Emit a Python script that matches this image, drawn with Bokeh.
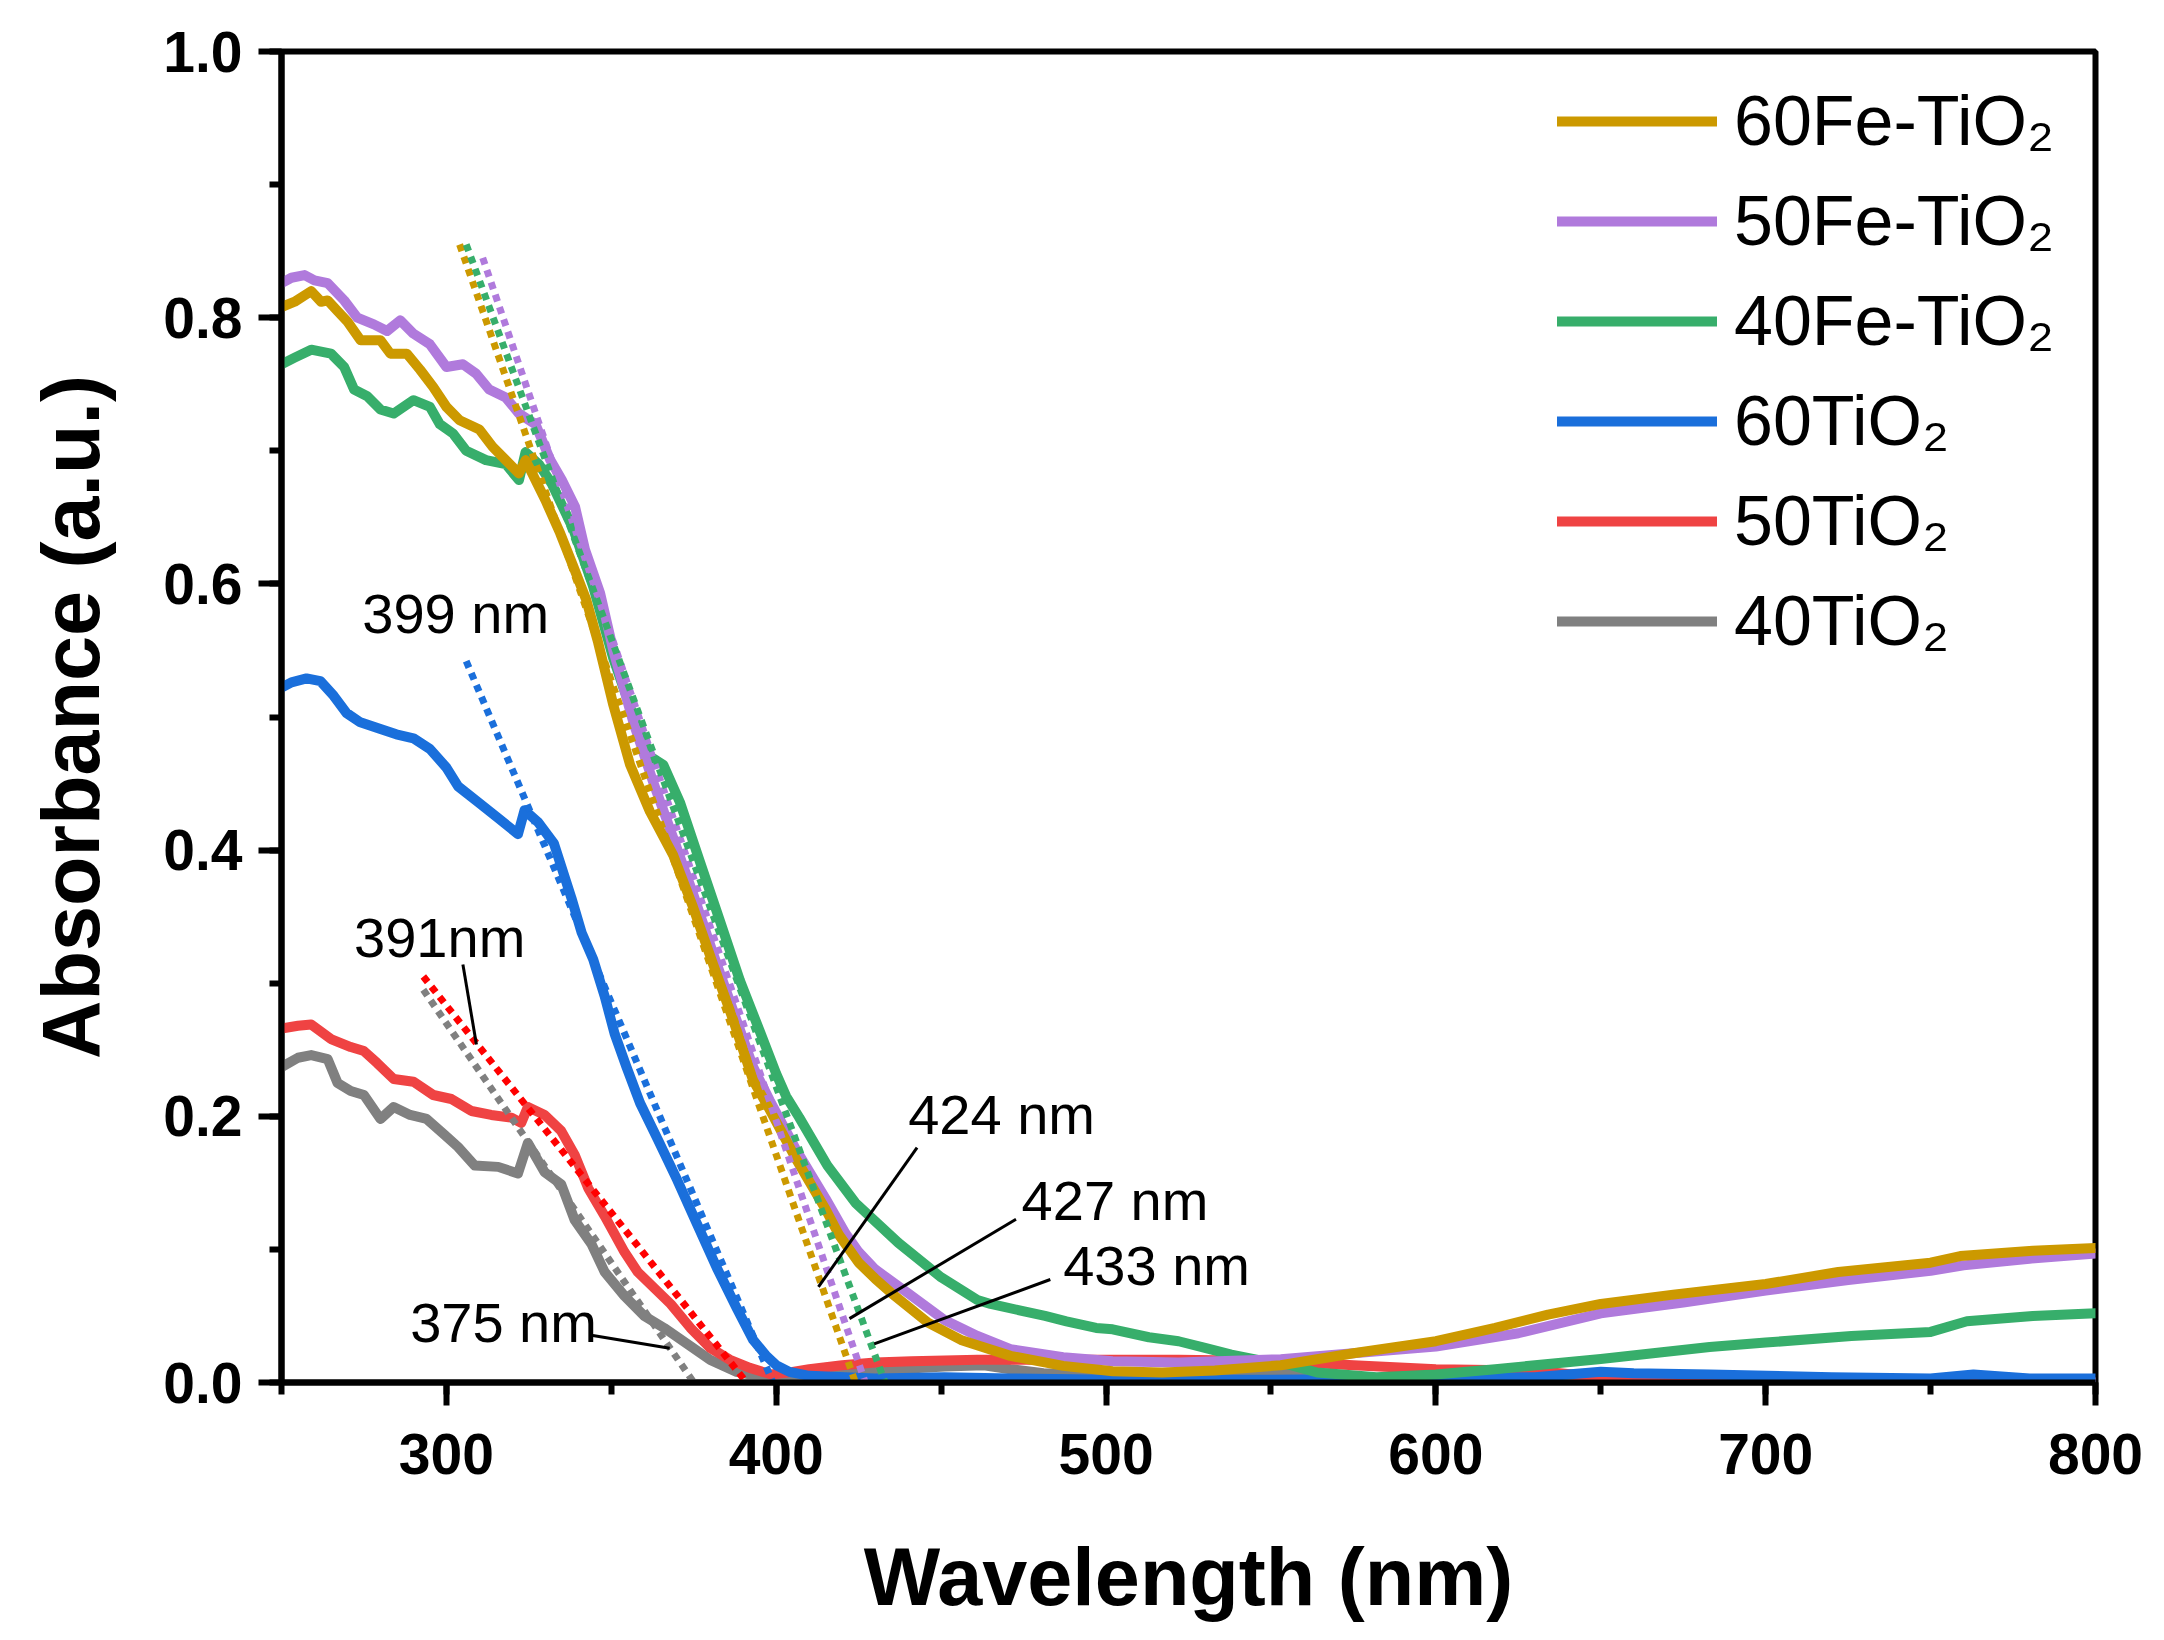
from bokeh.plotting import figure
from bokeh.models import FixedTicker, Legend, LegendItem, Label, Range1d, NumeralTickFormatter
from bokeh.embed import file_html
from bokeh.resources import INLINE

# ---------------- data ----------------
fe60_x = [250, 254, 259, 262, 264, 267, 270, 274, 280, 283, 288, 292, 296, 300, 304, 310, 314, 318, 322, 324, 327,
          330, 334.5, 338.5, 342.4, 346, 350.6, 355.7, 361.7, 368.8, 374.8, 380.9, 387, 393, 398, 406, 415, 419, 425,
          430, 435, 446, 456, 471, 487, 502, 517, 533, 553, 575, 600, 618, 634, 650, 672, 700, 722, 750, 759, 781, 800]
fe60_y = [0.808, 0.812, 0.820, 0.812, 0.813, 0.805, 0.797, 0.783, 0.783, 0.773, 0.773, 0.761, 0.748, 0.733, 0.723,
          0.716, 0.703, 0.693, 0.683, 0.693, 0.678, 0.663, 0.638, 0.613, 0.588, 0.556, 0.509, 0.464, 0.429, 0.396,
          0.357, 0.314, 0.272, 0.227, 0.205, 0.168, 0.130, 0.111, 0.090, 0.078, 0.067, 0.045, 0.032, 0.020, 0.0125,
          0.0085, 0.0075, 0.009, 0.013, 0.022, 0.031, 0.041, 0.051, 0.059, 0.066, 0.074, 0.083, 0.090, 0.095, 0.099,
          0.101]

fe50_x = [250, 253, 257, 260, 264, 269, 273, 278, 282, 286, 290, 295, 300, 305, 309, 313, 318, 322, 327, 331.5, 335,
          339, 342, 346.6, 350.6, 356.7, 362.7, 368.8, 374.8, 380.9, 387, 393, 398, 406, 415, 421, 425, 430, 440, 451,
          461, 471, 487, 502, 522, 553, 575, 600, 625, 650, 675, 700, 725, 750, 760, 780, 800]
fe50_y = [0.826, 0.830, 0.832, 0.828, 0.826, 0.813, 0.800, 0.795, 0.790, 0.798, 0.788, 0.780, 0.763, 0.765, 0.758,
          0.746, 0.740, 0.728, 0.720, 0.693, 0.678, 0.658, 0.626, 0.593, 0.550, 0.496, 0.451, 0.409, 0.367, 0.322,
          0.279, 0.237, 0.212, 0.175, 0.138, 0.112, 0.098, 0.085, 0.067, 0.047, 0.035, 0.025, 0.019, 0.016, 0.015,
          0.0175, 0.022, 0.027, 0.037, 0.052, 0.060, 0.069, 0.077, 0.084, 0.088, 0.093, 0.097]

fe40_x = [250, 254, 259, 265, 269, 272, 276, 280, 284, 290, 295, 298, 302, 306, 312, 318, 322, 324, 328, 332, 338.5,
          344.5, 350.6, 356.6, 362, 365.8, 370.8, 376.9, 382.9, 389, 395, 400, 403, 407, 415.5, 424, 437, 450, 461,
          465, 481.5, 488, 497, 502, 513, 522, 530, 538, 546, 553, 564, 582, 600, 618, 650, 683, 700, 726, 750, 761,
          781, 800]
fe40_y = [0.765, 0.770, 0.776, 0.773, 0.763, 0.746, 0.741, 0.731, 0.728, 0.738, 0.733, 0.720, 0.713, 0.700, 0.693,
          0.690, 0.678, 0.699, 0.690, 0.675, 0.641, 0.598, 0.544, 0.501, 0.470, 0.464, 0.436, 0.391, 0.347, 0.302,
          0.264, 0.232, 0.215, 0.199, 0.163, 0.135, 0.105, 0.079, 0.062, 0.059, 0.050, 0.046, 0.041, 0.040, 0.034,
          0.031, 0.026, 0.021, 0.017, 0.015, 0.0075, 0.004, 0.006, 0.010, 0.0177, 0.0266, 0.030, 0.035, 0.038,
          0.046, 0.050, 0.052]

ti60_x = [250, 253, 257.6, 261.8, 265.8, 269.7, 273.9, 280, 284.8, 290, 295, 300, 303.5, 309.6, 315.7, 321.7, 323.7,
          327.8, 332.6, 337.9, 341, 344.5, 348, 351, 354.6, 358.7, 364, 370, 376, 382, 388, 393, 397, 400, 404, 410,
          430, 451, 471, 502, 550, 600, 630, 650, 660, 683, 720, 750, 763, 780, 800]
ti60_y = [0.522, 0.526, 0.529, 0.527, 0.516, 0.503, 0.496, 0.491, 0.487, 0.484, 0.476, 0.462, 0.448, 0.436, 0.424,
          0.412, 0.430, 0.421, 0.405, 0.364, 0.338, 0.318, 0.290, 0.262, 0.237, 0.210, 0.183, 0.152, 0.119, 0.086,
          0.056, 0.032, 0.020, 0.013, 0.008, 0.005, 0.003, 0.004, 0.003, 0.002, 0.002, 0.003, 0.004, 0.008, 0.007,
          0.006, 0.004, 0.003, 0.006, 0.003, 0.003]

ti50_x = [250, 255, 259, 265, 271, 275, 279, 284, 290, 296, 301.5, 307.6, 313.6, 319.7, 322.7, 324.7, 329.8, 334.8,
          338.9, 343, 348, 354, 358, 363, 368, 374, 380, 386, 392, 398.5, 405, 410, 420, 430, 441, 461, 481, 502, 522,
          553, 575, 600, 629, 650, 672, 700, 800]
ti50_y = [0.266, 0.268, 0.269, 0.258, 0.252, 0.249, 0.240, 0.228, 0.226, 0.216, 0.213, 0.204, 0.201, 0.199, 0.195,
          0.207, 0.201, 0.189, 0.171, 0.146, 0.125, 0.098, 0.083, 0.071, 0.059, 0.041, 0.026, 0.017, 0.011, 0.006,
          0.008, 0.010, 0.013, 0.015, 0.016, 0.017, 0.017, 0.017, 0.017, 0.016, 0.013, 0.010, 0.009, 0.004, 0.001,
          0.0, 0.0]

ti40_x = [250, 255, 259, 264, 267, 271, 275, 280, 284, 289, 294, 299.5, 303.5, 308.6, 315.7, 321.7, 324.7, 329.8,
          334.8, 338.9, 344, 348, 354, 360, 366, 373, 380, 388, 396, 400, 410, 430, 451, 463, 471, 481, 502, 552, 575,
          650, 700, 800]
ti40_y = [0.237, 0.244, 0.246, 0.243, 0.225, 0.219, 0.216, 0.198, 0.207, 0.201, 0.198, 0.186, 0.177, 0.163, 0.162,
          0.157, 0.180, 0.158, 0.149, 0.122, 0.104, 0.083, 0.065, 0.050, 0.041, 0.029, 0.017, 0.008, 0.004, 0.005,
          0.006, 0.009, 0.012, 0.013, 0.010, 0.007, 0.006, 0.007, 0.003, 0.003, 0.001, 0.0]

# band-edge tangent lines: start point and x-intercept (absorption edge, nm)
tangent_x0 = [304, 311, 306, 306, 293, 293]
tangent_y0 = [0.855, 0.845, 0.855, 0.542, 0.305, 0.295]
tangent_edge = [424, 427, 433, 399, 391, 375]

labels = ["60Fe-TiO\u2082", "50Fe-TiO\u2082", "40Fe-TiO\u2082", "60TiO\u2082", "50TiO\u2082", "40TiO\u2082"]
colors = ["#CC9900", "#B07ADC", "#37AE6B", "#1A6FDB", "#EF4343", "#808080"]
dot_colors = ["#CC9900", "#B07ADC", "#37AE6B", "#1A6FDB", "#FF0000", "#808080"]
series_x = [fe60_x, fe50_x, fe40_x, ti60_x, ti50_x, ti40_x]
series_y = [fe60_y, fe50_y, fe40_y, ti60_y, ti50_y, ti40_y]

x_major = [300, 400, 500, 600, 700, 800]
x_minor = [250, 300, 350, 400, 450, 500, 550, 600, 650, 700, 750, 800]
y_major = [0.0, 0.2, 0.4, 0.6, 0.8, 1.0]
y_minor = [0.0, 0.1, 0.2, 0.3, 0.4, 0.5, 0.6, 0.7, 0.8, 0.9, 1.0]

# ---------------- figure ----------------
FONT = "Liberation Sans"
p = figure(frame_width=1814, frame_height=1331, output_backend="svg", toolbar_location=None,
           x_range=Range1d(250, 800), y_range=Range1d(0, 1.0),
           min_border_left=281, min_border_right=53, min_border_top=51, min_border_bottom=242)
p.background_fill_color = "white"
p.border_fill_color = "white"
p.grid.visible = False
p.outline_line_color = "black"
p.outline_line_width = 6

# curves (gold drawn last, on top)
renderers = {}
for i in [5, 4, 3, 2, 1, 0]:
    r = p.line(series_x[i], series_y[i], line_color=colors[i], line_width=10,
               line_join="round", line_cap="round")
    renderers[i] = r

# tangent (dotted) lines
for i in range(6):
    p.line([tangent_x0[i], tangent_edge[i]], [tangent_y0[i], 0.0], line_color=dot_colors[i],
           line_width=7, line_dash="7 6")

# annotation leader lines
lead_x0 = [305, 344.4, 442.7, 472.7, 483.1]
lead_y0 = [0.314, 0.0353, 0.1765, 0.1227, 0.0774]
lead_x1 = [309.1, 367.7, 412.8, 422.2, 429.7]
lead_y1 = [0.254, 0.0257, 0.0718, 0.048, 0.029]
p.segment(lead_x0, lead_y0, lead_x1, lead_y1, line_color="black", line_width=3)

ann = [("399 nm", 274.5, 0.578), ("391nm", 272, 0.334), ("375 nm", 289, 0.045),
       ("424 nm", 440, 0.201), ("427 nm", 474.4, 0.137), ("433 nm", 487, 0.088)]
for t, ax, ay in ann:
    p.add_layout(Label(x=ax, y=ay, text=t, text_font=FONT, text_font_size="56px",
                       text_baseline="alphabetic", text_color="black"))

# axes
for ax in (p.xaxis[0], p.yaxis[0]):
    ax.axis_line_width = 6
    ax.major_tick_line_width = 6
    ax.minor_tick_line_width = 6
    ax.major_tick_in = 0
    ax.major_tick_out = 23
    ax.minor_tick_in = 0
    ax.minor_tick_out = 12
    ax.major_label_text_font = FONT
    ax.major_label_text_font_style = "bold"
    ax.major_label_text_font_size = "57px"
    ax.major_label_text_color = "black"
    ax.axis_label_text_font = FONT
    ax.axis_label_text_font_style = "bold"
    ax.axis_label_text_font_size = "81px"
    ax.axis_label_text_color = "black"

p.xaxis.ticker = FixedTicker(ticks=x_major, minor_ticks=x_minor)
p.yaxis.ticker = FixedTicker(ticks=y_major, minor_ticks=y_minor)
p.yaxis.formatter = NumeralTickFormatter(format="0.0")
p.xaxis.axis_label = "Wavelength (nm)"
p.yaxis.axis_label = "Absorbance (a.u.)"
p.xaxis.major_label_standoff = 28
p.yaxis.major_label_standoff = 16
p.xaxis.axis_label_standoff = 55
p.yaxis.axis_label_standoff = 44

legend = Legend(items=[LegendItem(label=labels[i], renderers=[renderers[i]]) for i in range(6)],
                location=(1276, 711), orientation="vertical",
                border_line_alpha=0, background_fill_alpha=0, padding=0, margin=0, spacing=0,
                glyph_width=160, glyph_height=100, label_height=100, label_standoff=17,
                label_text_font=FONT, label_text_font_size="70px", label_text_color="black")
p.add_layout(legend)

open("out.html", "w").write(file_html(p, INLINE))
